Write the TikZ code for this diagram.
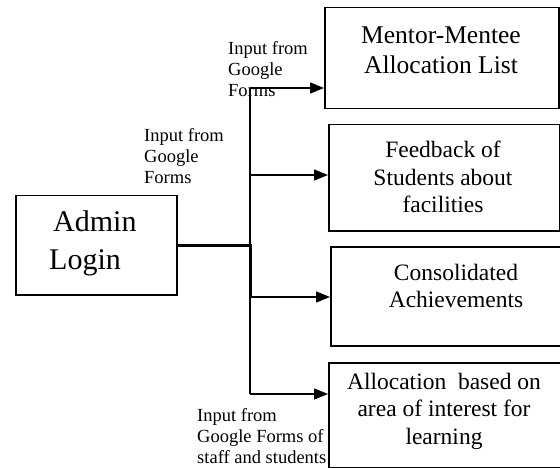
\documentclass[tikz,border=0pt]{standalone}
\usepackage{fontspec}
\setmainfont{Liberation Serif}
\usetikzlibrary{arrows.meta,calc}

\tikzset{
  box/.style={draw, line width=1.5pt, inner sep=0pt, anchor=north west},
  boxtext/.style={align=center, inner sep=0pt, font=\fontsize{23.5}{27.5}\selectfont},
  inlabel/.style={align=left, anchor=west, inner sep=0pt, font=\fontsize{18.5}{21}\selectfont},
  feed/.style={line width=1.4pt, -{Triangle[length=14pt,width=11pt]}},
  trunk/.style={line width=1.4pt},
  thickline/.style={line width=3pt}
}

\begin{document}
\begin{tikzpicture}[x=1pt, y=-1pt]
			%%%%% START %%%%%
			\useasboundingbox (0, 0) rectangle (560, 468);
			
			\node[inlabel] (lab1) at (228, 69) {Input from\\Google\\Forms};
			\node[inlabel] (lab2) at (144, 156) {Input from\\Google\\Forms};
			\node[inlabel] (lab3) at (197, 436) {Input from\\Google Forms of\\staff and students};
			
			\node[box, minimum width=161pt, minimum height=99pt] (admin) at (15, 195) {};
			\node[align=left, anchor=west, inner sep=0pt, font=\fontsize{30}{38}\selectfont] (admintxt) at (49, 243) {\hspace{4pt}Admin\\Login};
			
			\node[box, fill=white, minimum width=234pt, minimum height=101pt] (box1) at (324, 7) {};
			\node[box, fill=white, minimum width=231pt, minimum height=106pt] (box2) at (328, 124) {};
			\node[box, fill=white, minimum width=235pt, minimum height=99pt] (box3) at (330, 246) {};
			\node[box, minimum width=240pt, minimum height=105pt] (box4) at (328, 362) {};
			
			\node[boxtext, font=\fontsize{25.5}{30}\selectfont] (box1txt) at (441, 50) {Mentor-Mentee\\Allocation List};
			\node[boxtext] (box2txt) at (443, 177) {Feedback of\\Students about\\facilities};
			\node[boxtext] (box3txt) at (456, 286) {Consolidated\\Achievements};
			\node[boxtext] (box4txt) at (444, 411) {Allocation\ \ based on\\area of interest for\\learning};
			
			\coordinate (t1) at (250, 88);
			\coordinate (t2) at (250, 175);
			\coordinate (t3) at (250, 297);
			\coordinate (t4) at (250, 394);
			\coordinate (j0) at (admin.east -| t1);
			
			\draw[trunk] (t1) -- (t4);
			\draw[thickline] (admin.east) -- (j0) -- (t3);
			
			\draw[feed] (t1) -- (t1 -| box1.west);
			\draw[feed] (t2) -- (t2 -| box2.west);
			\draw[feed] (t3) -- (t3 -| box3.west);
			\draw[feed] (t4) -- (t4 -| box4.west);
			%%%%% END %%%%%
\end{tikzpicture}
\end{document}
